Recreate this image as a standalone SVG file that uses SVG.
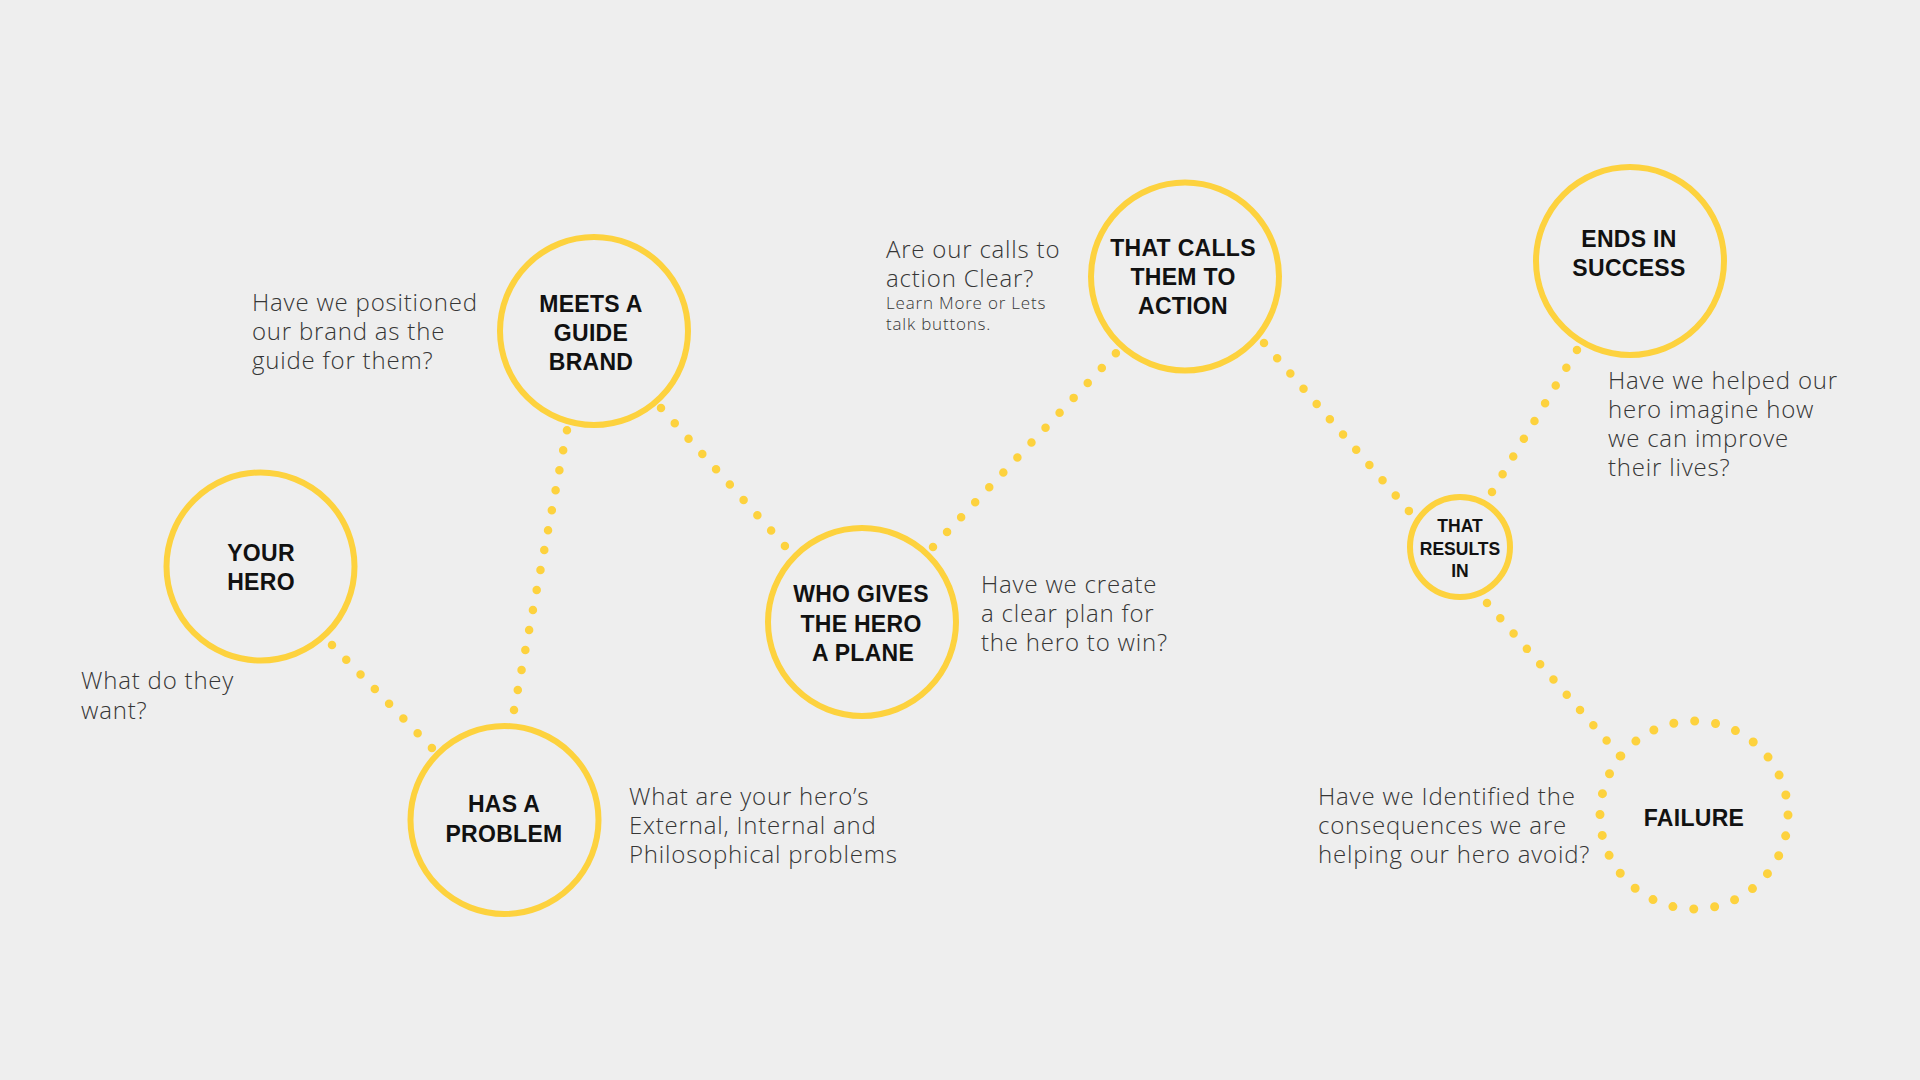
<svg xmlns="http://www.w3.org/2000/svg" width="1920" height="1080" viewBox="0 0 1920 1080">
<style>
.bg{fill:#eeeeee}
.ring{fill:none;stroke:#fdd23e;stroke-width:6}
.dotring{fill:none;stroke:#fdd23e;stroke-width:9;stroke-linecap:round}
.link{fill:none;stroke:#fdd23e;stroke-width:8.5;stroke-linecap:round}
.nl{font-family:"Liberation Sans",Arial,sans-serif;font-weight:700;font-size:23px;fill:#111111;text-anchor:middle;letter-spacing:0.3px}
.ns{font-family:"Liberation Sans",Arial,sans-serif;font-weight:700;font-size:17.5px;fill:#111111;text-anchor:middle}
.q{font-family:"Open Sans","Liberation Sans",sans-serif;font-weight:300;font-size:24px;fill:#363636;letter-spacing:0.8px}
.qs{font-family:"Open Sans","Liberation Sans",sans-serif;font-weight:300;font-size:17px;fill:#363636;letter-spacing:0.8px}
</style>
<rect class="bg" x="0" y="0" width="1920" height="1080"/>
<g id="connectors">
<line class="link" x1="332" y1="645" x2="432" y2="748" stroke-dasharray="0 20.49"/>
<line class="link" x1="514" y1="710" x2="567" y2="430" stroke-dasharray="0 20.34"/>
<line class="link" x1="661" y1="408" x2="785" y2="546" stroke-dasharray="0 20.6"/>
<line class="link" x1="933" y1="547" x2="1116" y2="353" stroke-dasharray="0 20.5"/>
<line class="link" x1="1264" y1="343" x2="1409" y2="511" stroke-dasharray="0 20.16"/>
<line class="link" x1="1492" y1="492" x2="1577" y2="350" stroke-dasharray="0 20.68"/>
<line class="link" x1="1487" y1="603" x2="1620" y2="756" stroke-dasharray="0 20.26"/>
</g>
<g id="your-hero">
<circle class="ring" cx="260.5" cy="566.5" r="94"/>
<text class="nl" x="261" y="561">YOUR</text>
<text class="nl" x="261" y="590">HERO</text>
</g>
<g id="has-a-problem">
<circle class="ring" cx="504.5" cy="820" r="94"/>
<text class="nl" x="504" y="812">HAS A</text>
<text class="nl" x="504" y="842">PROBLEM</text>
</g>
<g id="meets-a-guide-brand">
<circle class="ring" cx="594" cy="331" r="94"/>
<text class="nl" x="591" y="312">MEETS A</text>
<text class="nl" x="591" y="341">GUIDE</text>
<text class="nl" x="591" y="370">BRAND</text>
</g>
<g id="who-gives-the-hero-a-plane">
<circle class="ring" cx="862" cy="622" r="94"/>
<text class="nl" x="861" y="602">WHO GIVES</text>
<text class="nl" x="861" y="632">THE HERO</text>
<text class="nl" x="863" y="661">A PLANE</text>
</g>
<g id="that-calls-them-to-action">
<circle class="ring" cx="1185" cy="276.5" r="94"/>
<text class="nl" x="1183" y="256">THAT CALLS</text>
<text class="nl" x="1183" y="285">THEM TO</text>
<text class="nl" x="1183" y="314">ACTION</text>
</g>
<g id="that-results-in">
<circle class="ring" cx="1460" cy="547" r="50"/>
<text class="ns" x="1460" y="532">THAT</text>
<text class="ns" x="1460" y="555">RESULTS</text>
<text class="ns" x="1460" y="577">IN</text>
</g>
<g id="ends-in-success">
<circle class="ring" cx="1630" cy="261" r="94"/>
<text class="nl" x="1629" y="247">ENDS IN</text>
<text class="nl" x="1629" y="276">SUCCESS</text>
</g>
<g id="failure">
<circle class="dotring" cx="1694" cy="815" r="94" stroke-dasharray="0 21.093"/>
<text class="nl" x="1694" y="826">FAILURE</text>
</g>
<g id="notes">
<text class="q" x="81" y="689">What do they</text>
<text class="q" x="81" y="719">want?</text>
<text class="q" x="252" y="311">Have we positioned</text>
<text class="q" x="252" y="340">our brand as the</text>
<text class="q" x="252" y="369">guide for them?</text>
<text class="q" x="629" y="805">What are your hero’s</text>
<text class="q" x="629" y="834">External, Internal and</text>
<text class="q" x="629" y="863">Philosophical problems</text>
<text class="q" x="886" y="258">Are our calls to</text>
<text class="q" x="886" y="287">action Clear?</text>
<text class="qs" x="886" y="309">Learn More or Lets</text>
<text class="qs" x="886" y="330">talk buttons.</text>
<text class="q" x="981" y="593">Have we create</text>
<text class="q" x="981" y="622">a clear plan for</text>
<text class="q" x="981" y="651">the hero to win?</text>
<text class="q" x="1608" y="389">Have we helped our</text>
<text class="q" x="1608" y="418">hero imagine how</text>
<text class="q" x="1608" y="447">we can improve</text>
<text class="q" x="1608" y="476">their lives?</text>
<text class="q" x="1318" y="805">Have we Identified the</text>
<text class="q" x="1318" y="834">consequences we are</text>
<text class="q" x="1318" y="863">helping our hero avoid?</text>
</g>
</svg>
